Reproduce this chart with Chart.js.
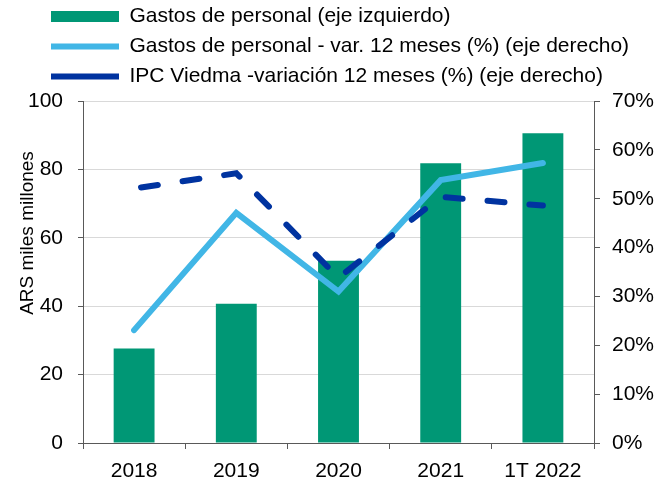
<!DOCTYPE html>
<html>
<head>
<meta charset="utf-8">
<script src="https://cdn.jsdelivr.net/npm/chart.js@4/dist/chart.umd.min.js"></script>
<style>
  body { margin: 0; background: #fff; }
  #wrap { width: 668px; height: 478px; }
</style>
</head>
<body>
<div id="wrap"><canvas id="gastosChart" width="668" height="478"></canvas></div>
<script>
// datos
const categorias = ['2018', '2019', '2020', '2021', '1T 2022'];
const gastosPersonal = [27.6, 40.7, 53.3, 81.8, 90.6];   // ARS miles millones
const gastosVar12m = [23.1, 47.1, 31.0, 53.8, 57.3];      // %
const ipcViedma12m = [52.1, 55.2, 33.8, 50.4, 48.6];      // %

const ejeIzqMax = 100;
const ejeDerMax = 70;

Chart.defaults.font.family = "'Liberation Sans', Arial, sans-serif";
Chart.defaults.color = '#000';

// mueve la leyenda (derecha / arriba) y sube el titulo del eje izquierdo
const ajustes = {
    id: 'ajustes',
    afterLayout(chart) {
        var lg = chart.legend;
        if (lg) {
            lg.left += 34;
            lg.right += 34;
            lg.top -= 4;
            lg.bottom -= 4;
        }
        var ejeY = chart.scales.y;
        if (ejeY && !ejeY._tituloMovido) {
            var dibujar = ejeY.drawTitle.bind(ejeY);
            ejeY.drawTitle = function () {
                chart.ctx.save();
                chart.ctx.translate(0, -39);
                dibujar();
                chart.ctx.restore();
            };
            ejeY._tituloMovido = true;
        }
    }
};

var ctx = document.getElementById('gastosChart').getContext('2d');

new Chart(ctx, {
    type: 'bar',
    data: {
        labels: categorias,
        datasets: [{
            type: 'bar',
            label: 'Gastos de personal (eje izquierdo)',
            data: gastosPersonal,
            backgroundColor: '#009775',
            borderWidth: 0,
            barPercentage: 0.4,
            categoryPercentage: 1,
            pointStyle: 'rect',
            yAxisID: 'y',
            order: 3
        }, {
            type: 'line',
            label: 'Gastos de personal - var. 12 meses (%) (eje derecho)',
            data: gastosVar12m,
            borderColor: '#41b6e6',
            backgroundColor: '#41b6e6',
            borderWidth: 6,
            borderCapStyle: 'round',
            borderJoinStyle: 'miter',
            tension: 0,
            pointRadius: 0,
            pointHoverRadius: 0,
            pointStyle: 'line',
            yAxisID: 'y1',
            order: 2
        }, {
            type: 'line',
            label: 'IPC Viedma -variación 12 meses (%) (eje derecho)',
            data: ipcViedma12m,
            borderColor: '#0033a0',
            backgroundColor: '#0033a0',
            borderWidth: 6,
            borderDash: [17, 25],
            borderDashOffset: 35,
            borderCapStyle: 'round',
            tension: 0,
            pointRadius: 0,
            pointHoverRadius: 0,
            pointStyle: 'line',
            yAxisID: 'y1',
            order: 1
        }]
    },
    options: {
        responsive: false,
        animation: false,
        layout: { padding: { left: 8, right: 13, top: 1, bottom: 0 } },
        plugins: {
            tooltip: { enabled: false },
            legend: {
                position: 'top',
                align: 'start',
                labels: {
                    usePointStyle: true,
                    pointStyleWidth: 68,
                    boxHeight: 11,
                    padding: 9,
                    font: { size: 21 },
                    color: '#000',
                    sort: function (a, b) { return a.datasetIndex - b.datasetIndex; }
                }
            }
        },
        scales: {
            x: {
                offset: true,
                afterFit: function (scale) { scale.height = 35; },
                grid: {
                    offset: true,
                    drawOnChartArea: false,
                    tickLength: 6,
                    tickColor: '#595959'
                },
                border: { color: '#595959', width: 1 },
                ticks: { font: { size: 21 }, padding: 10, color: '#000' }
            },
            y: {
                position: 'left',
                min: 0,
                max: ejeIzqMax,
                afterFit: function (scale) { scale.width = 75; },
                ticks: { stepSize: 20, font: { size: 21 }, padding: 15, color: '#000' },
                grid: { color: '#d9d9d9', tickColor: '#595959', tickLength: 5 },
                border: { color: '#595959', width: 1 },
                title: {
                    display: true,
                    text: 'ARS miles millones',
                    font: { size: 19, lineHeight: 1 },
                    padding: { top: 10, bottom: 0 },
                    color: '#000'
                }
            },
            y1: {
                position: 'right',
                min: 0,
                max: ejeDerMax,
                afterFit: function (scale) { scale.width = 61; },
                ticks: {
                    stepSize: 10,
                    font: { size: 21 },
                    padding: 12,
                    color: '#000',
                    callback: function (v) { return v + '%'; }
                },
                grid: { drawOnChartArea: false, tickColor: '#595959', tickLength: 6 },
                border: { color: '#595959', width: 1 }
            }
        }
    },
    plugins: [ajustes]
});
</script>
</body>
</html>
